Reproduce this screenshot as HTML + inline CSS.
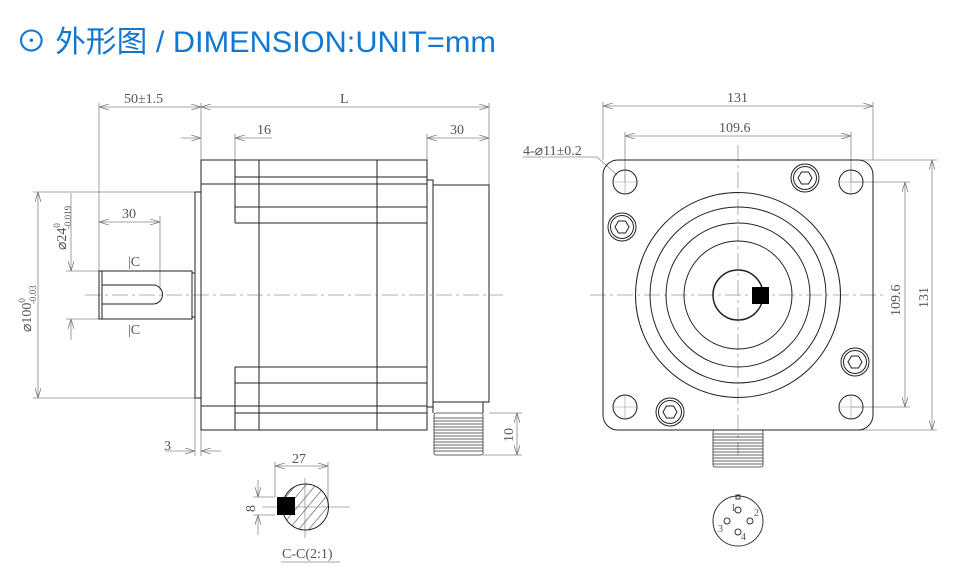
<!DOCTYPE html>
<html><head><meta charset="utf-8"><style>
html,body{margin:0;padding:0;background:#fff;width:957px;height:582px;overflow:hidden}
svg{display:block}
.t{font-family:"Liberation Serif",serif;fill:#555;font-size:14px}
</style></head><body>
<svg width="957" height="582" viewBox="0 0 957 582" xmlns="http://www.w3.org/2000/svg">
<defs>
<marker id="a" viewBox="0 0 10 6" refX="10" refY="3" markerWidth="10" markerHeight="6" orient="auto-start-reverse" markerUnits="userSpaceOnUse"><path d="M0,0L10,3L0,6" fill="none" stroke="#777" stroke-width="0.8"/></marker>
</defs>
<text x="16" y="52" font-family="'Liberation Sans','Noto Sans CJK SC',sans-serif" font-size="30" fill="#1277d0" textLength="480" lengthAdjust="spacingAndGlyphs">⊙ 外形图 / DIMENSION:UNIT=mm</text>

<g stroke="#888" stroke-width="0.8" fill="none">
<line x1="99" y1="103" x2="99" y2="271"/>
<line x1="201" y1="103" x2="201" y2="160"/>
<line x1="489" y1="103" x2="489" y2="185"/>
<line x1="99" y1="107" x2="201" y2="107" marker-start="url(#a)" marker-end="url(#a)"/>
<line x1="201" y1="107" x2="489" y2="107" marker-start="url(#a)" marker-end="url(#a)"/>
<line x1="235" y1="134" x2="235" y2="160"/>
<line x1="181" y1="138" x2="201" y2="138" marker-end="url(#a)"/>
<line x1="235" y1="138" x2="272" y2="138" marker-start="url(#a)"/>
<line x1="427" y1="134" x2="427" y2="160"/>
<line x1="427" y1="138" x2="489" y2="138" marker-start="url(#a)" marker-end="url(#a)"/>
<line x1="33" y1="192" x2="195" y2="192"/>
<line x1="33" y1="398" x2="195" y2="398"/>
<line x1="38" y1="192" x2="38" y2="398" marker-start="url(#a)" marker-end="url(#a)"/>
<line x1="66" y1="271" x2="99" y2="271"/>
<line x1="66" y1="319" x2="99" y2="319"/>
<line x1="71" y1="193" x2="71" y2="271" marker-end="url(#a)"/>
<line x1="71" y1="319" x2="71" y2="340" marker-start="url(#a)"/>
<line x1="160" y1="216" x2="160" y2="290"/>
<line x1="99" y1="222" x2="160" y2="222" marker-start="url(#a)" marker-end="url(#a)"/>
<line x1="195" y1="398" x2="195" y2="456"/>
<line x1="201" y1="430" x2="201" y2="456"/>
<line x1="165" y1="451" x2="195" y2="451" marker-end="url(#a)"/>
<line x1="201" y1="451" x2="221" y2="451" marker-start="url(#a)"/>
<line x1="489" y1="413" x2="522" y2="413"/>
<line x1="483" y1="455" x2="522" y2="455"/>
<line x1="517" y1="413" x2="517" y2="455" marker-start="url(#a)" marker-end="url(#a)"/>
<line x1="603" y1="102" x2="603" y2="160"/>
<line x1="873" y1="102" x2="873" y2="160"/>
<line x1="603" y1="106" x2="873" y2="106" marker-start="url(#a)" marker-end="url(#a)"/>
<line x1="625" y1="132" x2="625" y2="182"/>
<line x1="851" y1="132" x2="851" y2="182"/>
<line x1="625" y1="136" x2="851" y2="136" marker-start="url(#a)" marker-end="url(#a)"/>
<line x1="851" y1="182" x2="910" y2="182"/>
<line x1="851" y1="407" x2="910" y2="407"/>
<line x1="905" y1="182" x2="905" y2="407" marker-start="url(#a)" marker-end="url(#a)"/>
<line x1="858" y1="160" x2="937" y2="160"/>
<line x1="858" y1="430" x2="937" y2="430"/>
<line x1="932" y1="160" x2="932" y2="430" marker-start="url(#a)" marker-end="url(#a)"/>
<polyline points="523,157 597,157 617,175"/>
<line x1="275" y1="462" x2="275" y2="497"/>
<line x1="328" y1="462" x2="328" y2="507"/>
<line x1="275" y1="466" x2="328" y2="466" marker-start="url(#a)" marker-end="url(#a)"/>
<line x1="253" y1="497" x2="275" y2="497"/>
<line x1="253" y1="515" x2="275" y2="515"/>
<line x1="258" y1="480" x2="258" y2="497" marker-end="url(#a)"/>
<line x1="258" y1="515" x2="258" y2="535" marker-start="url(#a)"/>
<line x1="281" y1="562" x2="340" y2="562"/>
</g>
<g stroke="#999" stroke-width="0.8" fill="none" stroke-dasharray="16,4,3,4">
<line x1="85" y1="295" x2="503" y2="295"/>
<line x1="590" y1="295" x2="886" y2="295"/>
<line x1="738" y1="145" x2="738" y2="455"/>
<line x1="262" y1="507" x2="350" y2="507" stroke-dasharray="none"/>
<line x1="305" y1="478" x2="305" y2="538" stroke-dasharray="none"/>
</g>
<g stroke="#999" stroke-width="0.6" fill="none">
<line x1="613" y1="182" x2="637" y2="182"/><line x1="625" y1="170" x2="625" y2="194"/>
<line x1="839" y1="182" x2="863" y2="182"/><line x1="851" y1="170" x2="851" y2="194"/>
<line x1="613" y1="407" x2="637" y2="407"/><line x1="625" y1="395" x2="625" y2="419"/>
<line x1="839" y1="407" x2="863" y2="407"/><line x1="851" y1="395" x2="851" y2="419"/>
</g>

<g stroke="#222" stroke-width="1" fill="none">
<rect x="201" y="160" width="226" height="270"/>
<line x1="201" y1="184" x2="427" y2="184"/>
<line x1="235" y1="177" x2="427" y2="177"/>
<line x1="235" y1="207" x2="427" y2="207"/>
<line x1="235" y1="223" x2="427" y2="223"/>
<line x1="235" y1="160" x2="235" y2="223"/>
<line x1="235" y1="367" x2="427" y2="367"/>
<line x1="235" y1="383" x2="427" y2="383"/>
<line x1="201" y1="406" x2="427" y2="406"/>
<line x1="235" y1="413" x2="427" y2="413"/>
<line x1="235" y1="367" x2="235" y2="430"/>
<line x1="259" y1="160" x2="259" y2="430"/>
<line x1="377" y1="160" x2="377" y2="430"/>
<rect x="195" y="192" width="6" height="206"/>
<rect x="427" y="180" width="6" height="227"/>
<rect x="433" y="185" width="56" height="217"/>
<line x1="433" y1="402" x2="433" y2="413"/><line x1="483" y1="402" x2="483" y2="413"/>
<rect x="99" y="271" width="93" height="48"/>
<rect x="192" y="273" width="3" height="44"/>
<line x1="102" y1="271" x2="102" y2="319"/>
<path d="M102,285 H153 A9.5,9.5 0 0 1 153,304 H102"/>
</g>
<g stroke="#333" stroke-width="0.8" fill="none">
<rect x="434" y="413" width="49" height="42" rx="2"/>
<path d="M434,418H483M434,421H483M434,424H483M434,427H483M434,430H483M434,433H483M434,436H483M434,439H483M434,442H483M434,445H483M434,448H483M434,451H483"/>
<rect x="713" y="430" width="50" height="37" rx="2"/>
<path d="M713,434H763M713,437H763M713,440H763M713,443H763M713,446H763M713,449H763M713,452H763M713,455H763M713,458H763M713,461H763M713,464H763"/>
</g>

<g stroke="#222" stroke-width="1" fill="none">
<rect x="603" y="160" width="270" height="270" rx="15"/>
<circle cx="738" cy="295" r="102.5"/>
<circle cx="738" cy="295" r="88"/>
<circle cx="738" cy="295" r="72"/>
<circle cx="738" cy="295" r="54"/>
<circle cx="738" cy="295" r="25" stroke-width="1.5"/>
<circle cx="625" cy="182" r="12"/><circle cx="851" cy="182" r="12"/>
<circle cx="625" cy="407" r="12"/><circle cx="851" cy="407" r="12"/>
<g transform="translate(805,178)"><circle r="14"/><circle r="11.5"/><polygon points="7,0 3.5,6 -3.5,6 -7,0 -3.5,-6 3.5,-6"/></g>
<g transform="translate(622,227)"><circle r="14"/><circle r="11.5"/><polygon points="7,0 3.5,6 -3.5,6 -7,0 -3.5,-6 3.5,-6"/></g>
<g transform="translate(855,362)"><circle r="14"/><circle r="11.5"/><polygon points="7,0 3.5,6 -3.5,6 -7,0 -3.5,-6 3.5,-6"/></g>
<g transform="translate(670,412)"><circle r="14"/><circle r="11.5"/><polygon points="7,0 3.5,6 -3.5,6 -7,0 -3.5,-6 3.5,-6"/></g>
</g>
<rect x="752" y="287" width="17" height="17" fill="#000"/>

<clipPath id="cc"><circle cx="305.5" cy="507" r="23"/></clipPath>
<g clip-path="url(#cc)" stroke="#777" stroke-width="0.8">
<path d="M270,540L320,480M280,540L330,480M290,540L340,480M300,540L350,480M260,540L310,480M250,540L300,480M240,540L290,480"/>
</g>
<circle cx="305.5" cy="507" r="23" stroke="#222" stroke-width="1" fill="none"/>
<rect x="277" y="497" width="18" height="18" fill="#000"/>

<g stroke="#333" stroke-width="1" fill="none">
<circle cx="738" cy="521" r="25"/>
<rect x="736" y="495" width="4" height="4"/>
<circle cx="738" cy="510" r="3"/><circle cx="750" cy="521" r="3"/><circle cx="727" cy="521" r="3"/><circle cx="738" cy="532" r="3"/>
</g>
<g class="t" font-size="10">
<text x="731" y="511" font-size="10">1</text><text x="754" y="516" font-size="10">2</text><text x="718" y="532" font-size="10">3</text><text x="741" y="540" font-size="10">4</text>
</g>

<g class="t">
<text x="124" y="103">50±1.5</text>
<text x="340" y="103">L</text>
<text x="257" y="134">16</text>
<text x="450" y="134">30</text>
<text x="122" y="218">30</text>
<text x="128" y="266">|C</text>
<text x="128" y="334">|C</text>
<text x="164" y="450">3</text>
<text x="727" y="102">131</text>
<text x="719" y="132">109.6</text>
<text x="523" y="155">4-⌀11±0.2</text>
<text x="292" y="463">27</text>
<text x="282" y="558">C-C(2:1)</text>
<text transform="translate(31,332) rotate(-90)">⌀100<tspan font-size="9" dy="-6">0</tspan><tspan font-size="9" dx="-6" dy="11">-0.03</tspan></text>
<text transform="translate(66,250) rotate(-90)">⌀24<tspan font-size="9" dy="-6">0</tspan><tspan font-size="9" dx="-6" dy="11">-0.019</tspan></text>
<text transform="translate(513,442) rotate(-90)">10</text>
<text transform="translate(900,316) rotate(-90)">109.6</text>
<text transform="translate(928,308) rotate(-90)">131</text>
<text transform="translate(255,512) rotate(-90)">8</text>
</g>
</svg>
</body></html>
